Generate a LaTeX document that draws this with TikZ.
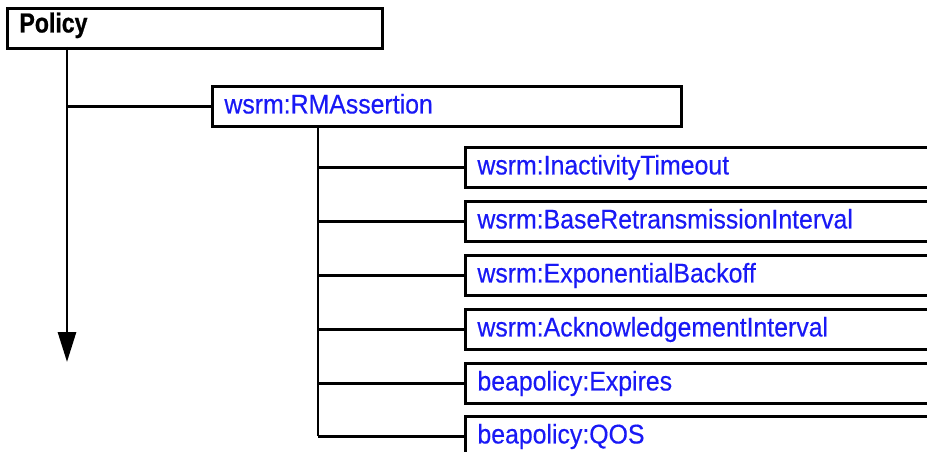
\documentclass[tikz,border=0pt]{standalone}
\usepackage{fontspec}
\setmainfont{Liberation Sans}
\newfontfamily\polfont[FakeStretch=0.84,FakeBold=0.8]{Liberation Sans}
\newfontfamily\elfont[FakeStretch=0.92,FakeBold=0.4]{Liberation Sans}
\usetikzlibrary{arrows.meta}
\definecolor{elblue}{RGB}{25,25,245}
\begin{document}
\begin{tikzpicture}[x=1pt,y=-1pt,
  box/.style={draw=black, line width=2.9pt, anchor=north west, inner ysep=0pt, inner xsep=12pt, align=left},
  polbox/.style={box, minimum height=40pt, text width=351pt, text height=17pt, text depth=9pt, font=\polfont\bfseries\fontsize{27.5}{31}\selectfont},
  rmbox/.style={box, minimum height=40pt, text width=445pt, text height=19pt, text depth=5pt, font=\elfont\fontsize{27}{30}\selectfont, text=elblue},
  elbox/.style={box, minimum height=40pt, text width=470pt, text height=19pt, text depth=5pt, font=\elfont\fontsize{27}{30}\selectfont, text=elblue},
  conn/.style={draw=black, line width=2.9pt}]
\useasboundingbox (0,0) rectangle (927,452);
\node[polbox] (policy) at (6,7) {Policy};
\node[rmbox] (rm) at (211,85) {wsrm:RMAssertion};
\node[elbox] (c1) at (464,146) {wsrm:InactivityTimeout};
\node[elbox] (c2) at (464,200) {wsrm:BaseRetransmissionInterval};
\node[elbox] (c3) at (464,254) {wsrm:ExponentialBackoff};
\node[elbox] (c4) at (464,308) {wsrm:AcknowledgementInterval};
\node[elbox] (c5) at (464,362) {beapolicy:Expires};
\node[elbox] (c6) at (464,415) {beapolicy:QOS};
\coordinate (p0) at (67,47);
\coordinate (pend) at (67,362);
\coordinate (r0) at (318,125);
\draw[conn, -{Triangle[length=30pt,width=18pt]}] (p0) -- (pend);
\draw[conn] (p0 |- rm.west) -- (rm.west);
\draw[conn] (r0) -- (r0 |- c6.west);
\foreach \c in {c1,c2,c3,c4,c5,c6} {
  \draw[conn] (r0 |- \c.west) -- (\c.west);
}
\end{tikzpicture}
\end{document}
